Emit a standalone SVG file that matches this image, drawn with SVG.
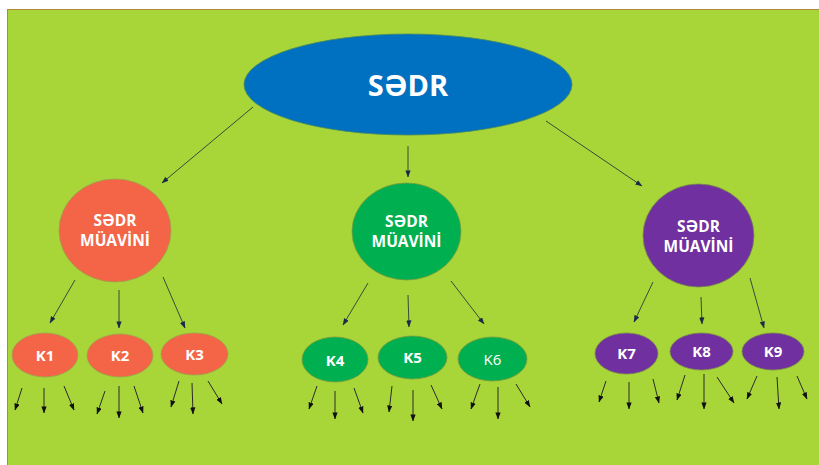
<svg xmlns="http://www.w3.org/2000/svg" width="819" height="465" viewBox="0 0 819 465">
<defs>
<marker id="ah" viewBox="0 0 8 6" refX="7.5" refY="3" markerWidth="7" markerHeight="5.5" markerUnits="userSpaceOnUse" orient="auto">
<path d="M0,0 L8,3 L0,6 z" fill="#1c2a4a"/>
</marker>
<marker id="ahk" viewBox="0 0 8 6" refX="7.5" refY="3" markerWidth="7" markerHeight="5.5" markerUnits="userSpaceOnUse" orient="auto">
<path d="M0,0 L8,3 L0,6 z" fill="#111"/>
</marker>
</defs>
<style>
.t{font-family:"Open Sans","Noto Sans","DejaVu Sans",sans-serif;font-weight:bold;fill:#fff;text-anchor:middle}
.c1{stroke:#3b4a3a;stroke-width:1;fill:none;marker-end:url(#ah)}
.c2{stroke:#2a2a2a;stroke-width:1;fill:none;marker-end:url(#ahk)}
.or{fill:#f46548;stroke:#9aa34a;stroke-width:0.8}
.gr{fill:#00b050;stroke:#7a9a3a;stroke-width:0.8}
.pu{fill:#7030a0;stroke:#7a8a4a;stroke-width:0.8}
</style>
<rect x="0" y="0" width="819" height="465" fill="#fff"/>
<rect x="7.5" y="9.5" width="820" height="470" fill="#a8d538" stroke="#b08a3a" stroke-width="1"/>

<g id="connectors">
<line class="c1" x1="253" y1="107" x2="162" y2="183"/>
<line class="c1" x1="408" y1="146" x2="408" y2="177"/>
<line class="c1" x1="546" y1="121" x2="642" y2="186"/>

<line class="c1" x1="75" y1="280" x2="50" y2="323"/>
<line class="c1" x1="119" y1="290" x2="119" y2="328"/>
<line class="c1" x1="163" y1="277" x2="185" y2="328"/>

<line class="c1" x1="368" y1="283" x2="343" y2="325"/>
<line class="c1" x1="408" y1="295" x2="409" y2="327"/>
<line class="c1" x1="451" y1="281" x2="484" y2="324"/>

<line class="c1" x1="653" y1="282" x2="634" y2="322"/>
<line class="c1" x1="701" y1="297" x2="702" y2="324"/>
<line class="c1" x1="750" y1="278" x2="764" y2="328"/>

<line class="c2" x1="22" y1="388" x2="15" y2="410"/>
<line class="c2" x1="44" y1="388" x2="44" y2="413"/>
<line class="c2" x1="64" y1="386" x2="74" y2="410"/>
<line class="c2" x1="105" y1="391" x2="97" y2="414"/>
<line class="c2" x1="119" y1="386" x2="119" y2="418"/>
<line class="c2" x1="134" y1="386" x2="143" y2="413"/>
<line class="c2" x1="179" y1="381" x2="171" y2="407"/>
<line class="c2" x1="192" y1="383" x2="193" y2="414"/>
<line class="c2" x1="208" y1="381" x2="222" y2="404"/>

<line class="c2" x1="317" y1="386" x2="309" y2="409"/>
<line class="c2" x1="335" y1="391" x2="335" y2="419"/>
<line class="c2" x1="354" y1="388" x2="363" y2="413"/>
<line class="c2" x1="392" y1="386" x2="389" y2="412"/>
<line class="c2" x1="413" y1="390" x2="413" y2="421"/>
<line class="c2" x1="431" y1="385" x2="442" y2="409"/>
<line class="c2" x1="480" y1="384" x2="471" y2="409"/>
<line class="c2" x1="498" y1="387" x2="498" y2="419"/>
<line class="c2" x1="516" y1="384" x2="530" y2="407"/>

<line class="c2" x1="606" y1="381" x2="599" y2="402"/>
<line class="c2" x1="629" y1="382" x2="629" y2="409"/>
<line class="c2" x1="653" y1="379" x2="659" y2="403"/>
<line class="c2" x1="685" y1="375" x2="677" y2="400"/>
<line class="c2" x1="704" y1="374" x2="704" y2="409"/>
<line class="c2" x1="717" y1="377" x2="734" y2="403"/>
<line class="c2" x1="757" y1="376" x2="747" y2="399"/>
<line class="c2" x1="777" y1="377" x2="779" y2="409"/>
<line class="c2" x1="797" y1="376" x2="807" y2="399"/>
</g>

<g id="sedr">
<ellipse cx="408" cy="84.5" rx="164" ry="50.5" fill="#0070c0" stroke="#4a8a5a" stroke-width="0.8"/>
<text class="t" x="408" y="96" font-size="29">SƏDR</text>
</g>

<g id="muavin1">
<ellipse class="or" cx="115" cy="230.5" rx="56" ry="51.5"/>
<text class="t" x="115" y="226" font-size="15.5">SƏDR</text>
<text class="t" x="115" y="246" font-size="15.5">MÜAVİNİ</text>
</g>
<g id="muavin2">
<ellipse class="gr" cx="406.5" cy="231.5" rx="54.5" ry="48.5"/>
<text class="t" x="406.5" y="227" font-size="15.5">SƏDR</text>
<text class="t" x="406.5" y="247" font-size="15.5">MÜAVİNİ</text>
</g>
<g id="muavin3">
<ellipse class="pu" cx="698.5" cy="235.5" rx="55.5" ry="51.5"/>
<text class="t" x="698.5" y="232" font-size="15.5">SƏDR</text>
<text class="t" x="698.5" y="252" font-size="15.5">MÜAVİNİ</text>
</g>

<g id="k1"><ellipse class="or" cx="45" cy="355" rx="33" ry="22"/><text class="t" x="45" y="361" font-size="15">K1</text></g>
<g id="k2"><ellipse class="or" cx="120" cy="355.5" rx="33" ry="21.5"/><text class="t" x="120" y="361" font-size="15">K2</text></g>
<g id="k3"><ellipse class="or" cx="194.5" cy="354" rx="33.5" ry="21"/><text class="t" x="194.5" y="360" font-size="15">K3</text></g>
<g id="k4"><ellipse class="gr" cx="335" cy="359.5" rx="33" ry="22.5"/><text class="t" x="335" y="366" font-size="15">K4</text></g>
<g id="k5"><ellipse class="gr" cx="412.5" cy="357.5" rx="34.5" ry="21.5"/><text class="t" x="412.5" y="363" font-size="15">K5</text></g>
<g id="k6"><ellipse class="gr" cx="492.5" cy="359" rx="34.5" ry="22"/><text class="t" x="492.5" y="364.5" font-size="15" style="font-weight:normal">K6</text></g>
<g id="k7"><ellipse class="pu" cx="626.5" cy="353.5" rx="31.5" ry="20.5"/><text class="t" x="626.5" y="359" font-size="15">K7</text></g>
<g id="k8"><ellipse class="pu" cx="701.5" cy="351.5" rx="31.5" ry="18.5"/><text class="t" x="701.5" y="357" font-size="15">K8</text></g>
<g id="k9"><ellipse class="pu" cx="773" cy="351.5" rx="31" ry="18.5"/><text class="t" x="773" y="357" font-size="15">K9</text></g>
</svg>
